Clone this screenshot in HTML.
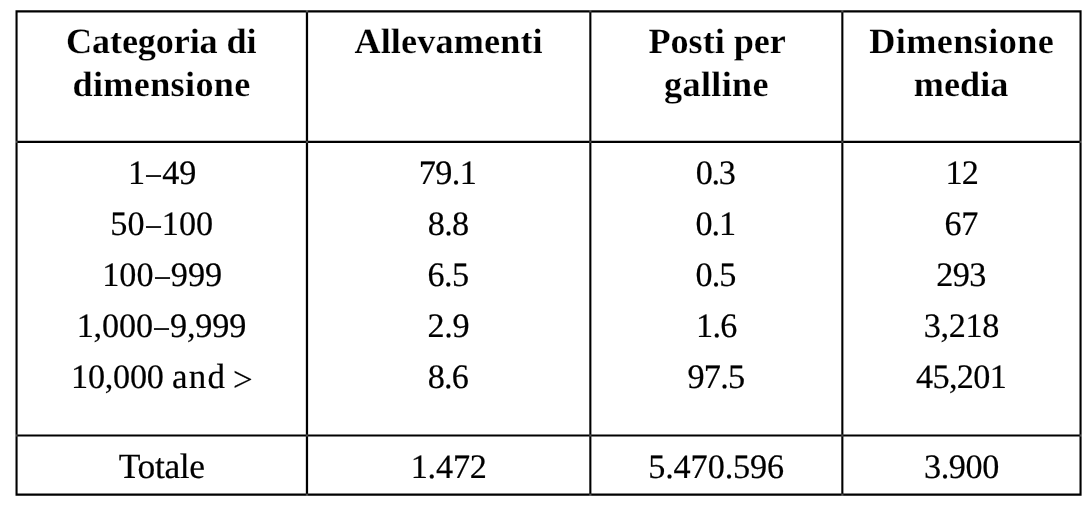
<!DOCTYPE html>
<html lang="it">
<head>
<meta charset="utf-8">
<title>Tabella</title>
<style>
html,body{margin:0;padding:0;background:#fff;}
body{width:1091px;height:511px;position:relative;overflow:hidden;font-family:"Liberation Serif",serif;color:#000;text-rendering:geometricPrecision;}
.g{position:absolute;left:0;top:0;}
.t{position:absolute;width:280px;white-space:nowrap;line-height:0;text-align:center;transform-origin:50% 0;}
.t i{display:inline-block;width:0;height:40px;letter-spacing:0;}
.b{font-weight:bold;-webkit-text-stroke:0.2px #fff;}
.r{-webkit-text-stroke:0.2px #000;}
.r b{display:inline-block;font-weight:normal;transform:scaleX(0.85);}
</style>
</head>
<body>
<svg class="g" width="1091" height="511" viewBox="0 0 1091 511" aria-hidden="true">
<path fill="#000" fill-rule="nonzero" d="M15.5 10.3H17.6V495.72H15.5Z M305.85 10.3H308.1V495.72H305.85Z M589.3 10.3H591.4V495.72H589.3Z M841.3 10.3H843.4V495.72H841.3Z M1079.5 10.3H1081.6V495.72H1079.5Z M15.5 10.3H1081.6V12.4H15.5Z M15.5 140.8H1081.6V142.9H15.5Z M15.5 434.4H1081.6V436.6H15.5Z M15.5 493.6H1081.6V495.72H15.5Z"/>
<rect x="15.5" y="140.8" width="2.10" height="2.10" fill="#fff" fill-opacity="0.27"/>
<rect x="15.5" y="434.4" width="2.10" height="2.20" fill="#fff" fill-opacity="0.27"/>
<rect x="305.85" y="10.3" width="2.25" height="2.10" fill="#fff" fill-opacity="0.27"/>
<rect x="305.85" y="140.8" width="2.25" height="2.10" fill="#fff" fill-opacity="0.27"/>
<rect x="305.85" y="434.4" width="2.25" height="2.20" fill="#fff" fill-opacity="0.27"/>
<rect x="305.85" y="493.6" width="2.25" height="2.12" fill="#fff" fill-opacity="0.27"/>
<rect x="589.3" y="10.3" width="2.10" height="2.10" fill="#fff" fill-opacity="0.27"/>
<rect x="589.3" y="140.8" width="2.10" height="2.10" fill="#fff" fill-opacity="0.27"/>
<rect x="589.3" y="434.4" width="2.10" height="2.20" fill="#fff" fill-opacity="0.27"/>
<rect x="589.3" y="493.6" width="2.10" height="2.12" fill="#fff" fill-opacity="0.27"/>
<rect x="841.3" y="10.3" width="2.10" height="2.10" fill="#fff" fill-opacity="0.27"/>
<rect x="841.3" y="140.8" width="2.10" height="2.10" fill="#fff" fill-opacity="0.27"/>
<rect x="841.3" y="434.4" width="2.10" height="2.20" fill="#fff" fill-opacity="0.27"/>
<rect x="841.3" y="493.6" width="2.10" height="2.12" fill="#fff" fill-opacity="0.27"/>
<rect x="1079.5" y="140.8" width="2.10" height="2.10" fill="#fff" fill-opacity="0.27"/>
<rect x="1079.5" y="434.4" width="2.10" height="2.20" fill="#fff" fill-opacity="0.27"/>
</svg>
<div role="table" aria-label="Allevamenti e posti per galline per categoria di dimensione">
<div role="row">
<div role="columnheader"><div class="t b" style="left:21px;top:13px;font-size:35.5px;letter-spacing:-0.143px;transform:translateX(0.23px) scaleX(1.02);"><i></i>Categoria di</div><div class="t b" style="left:22px;top:56px;font-size:35.5px;letter-spacing:0.31px;transform:translateX(-0.43px) scaleX(1.02);"><i></i>dimensione</div></div>
<div role="columnheader"><div class="t b" style="left:309px;top:13px;font-size:35.5px;letter-spacing:0.12px;transform:translateX(-0.38px) scaleX(1.02);"><i></i>Allevamenti</div></div>
<div role="columnheader"><div class="t b" style="left:577px;top:13px;font-size:35.5px;letter-spacing:-0.055px;transform:translateX(0.15px) scaleX(1.02);"><i></i>Posti per</div><div class="t b" style="left:577px;top:56px;font-size:35.5px;letter-spacing:0.334px;transform:translateX(-0.48px) scaleX(1.02);"><i></i>galline</div></div>
<div role="columnheader"><div class="t b" style="left:822px;top:13px;font-size:35.5px;letter-spacing:0.385px;transform:translateX(-0.34px) scaleX(1.02);"><i></i>Dimensione</div><div class="t b" style="left:821px;top:56px;font-size:35.5px;letter-spacing:0.015px;transform:translateX(0.11px) scaleX(1.02);"><i></i>media</div></div>
</div>
<div role="row">
<div role="rowheader"><div class="t r" style="left:22.16px;top:144px;font-size:34.2px;letter-spacing:-0.023px;"><i></i>1<b>–</b>49</div></div>
<div role="cell"><div class="t r" style="left:307.53px;top:144px;font-size:34.2px;letter-spacing:-0.589px;"><i></i>79.1</div></div>
<div role="cell"><div class="t r" style="left:575.24px;top:144px;font-size:34.2px;letter-spacing:-1.258px;"><i></i>0.3</div></div>
<div role="cell"><div class="t r" style="left:821.71px;top:144px;font-size:34.2px;letter-spacing:-0.788px;"><i></i>12</div></div>
</div>
<div role="row">
<div role="rowheader"><div class="t r" style="left:21.76px;top:195px;font-size:34.2px;letter-spacing:0.055px;"><i></i>50<b>–</b>100</div></div>
<div role="cell"><div class="t r" style="left:308.18px;top:195px;font-size:34.2px;letter-spacing:-0.695px;"><i></i>8.8</div></div>
<div role="cell"><div class="t r" style="left:575.31px;top:195px;font-size:34.2px;letter-spacing:-0.983px;"><i></i>0.1</div></div>
<div role="cell"><div class="t r" style="left:821.33px;top:195px;font-size:34.2px;letter-spacing:-0.334px;"><i></i>67</div></div>
</div>
<div role="row">
<div role="rowheader"><div class="t r" style="left:22.23px;top:246px;font-size:34.2px;letter-spacing:0.064px;"><i></i>100<b>–</b>999</div></div>
<div role="cell"><div class="t r" style="left:308.07px;top:246px;font-size:34.2px;letter-spacing:-0.478px;"><i></i>6.5</div></div>
<div role="cell"><div class="t r" style="left:575.47px;top:246px;font-size:34.2px;letter-spacing:-0.978px;"><i></i>0.5</div></div>
<div role="cell"><div class="t r" style="left:821.01px;top:246px;font-size:34.2px;letter-spacing:-0.513px;"><i></i>293</div></div>
</div>
<div role="row">
<div role="rowheader"><div class="t r" style="left:21.47px;top:297px;font-size:34.2px;letter-spacing:-0.12px;"><i></i>1,000<b>–</b>9,999</div></div>
<div role="cell"><div class="t r" style="left:308.33px;top:297px;font-size:34.2px;letter-spacing:-0.303px;"><i></i>2.9</div></div>
<div role="cell"><div class="t r" style="left:576.38px;top:297px;font-size:34.2px;letter-spacing:-0.681px;"><i></i>1.6</div></div>
<div role="cell"><div class="t r" style="left:821.43px;top:297px;font-size:34.2px;letter-spacing:-0.286px;"><i></i>3,218</div></div>
</div>
<div role="row">
<div role="rowheader"><div class="t r" style="left:21.85px;top:348px;font-size:34.2px;"><i></i><span style="letter-spacing:-0.25px">10,000</span><span style="font-size:35px;letter-spacing:1.35px;margin:0 -1.35px 0 -1.8px"> and</span><span style="position:relative;top:3.0px;margin-left:-1.0px;font-size:35px"> &gt;</span></div></div>
<div role="cell"><div class="t r" style="left:307.92px;top:348px;font-size:34.2px;letter-spacing:-0.871px;"><i></i>8.6</div></div>
<div role="cell"><div class="t r" style="left:575.95px;top:348px;font-size:34.2px;letter-spacing:-0.69px;"><i></i>97.5</div></div>
<div role="cell"><div class="t r" style="left:821.14px;top:348px;font-size:34.2px;letter-spacing:-0.62px;"><i></i>45,201</div></div>
</div>
<div role="row">
<div role="rowheader"><div class="t r" style="left:21.76px;top:438px;font-size:35.5px;letter-spacing:-0.377px;"><i></i>Totale</div></div>
<div role="cell"><div class="t r" style="left:308.71px;top:438px;font-size:34.2px;letter-spacing:-0.169px;"><i></i>1.472</div></div>
<div role="cell"><div class="t r" style="left:576.15px;top:438px;font-size:34.2px;letter-spacing:-0.085px;"><i></i>5.470.596</div></div>
<div role="cell"><div class="t r" style="left:821.51px;top:438px;font-size:34.2px;letter-spacing:-0.362px;"><i></i>3.900</div></div>
</div>
</div>
</body>
</html>
